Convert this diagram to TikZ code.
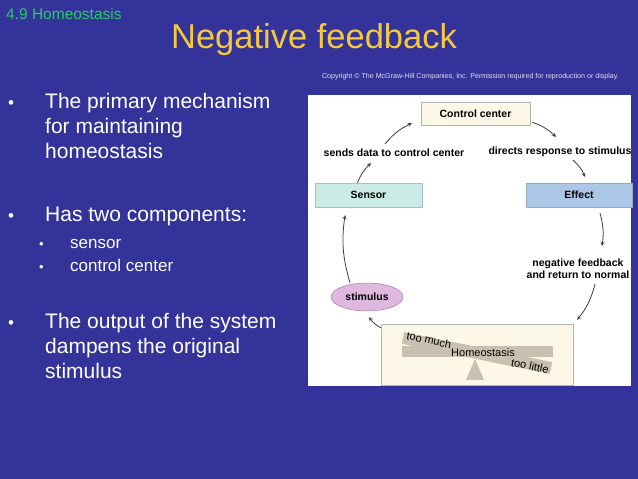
\documentclass[tikz,border=0pt]{standalone}
\usepackage{fontspec}
\setmainfont{Liberation Sans}
\usetikzlibrary{positioning,shapes.geometric}
\definecolor{slideblue}{RGB}{51,51,153}
\definecolor{titleyellow}{RGB}{246,200,62}
\definecolor{topicgreen}{RGB}{38,204,102}
\definecolor{creamfill}{RGB}{252,247,230}
\definecolor{sensorfill}{RGB}{202,234,229}
\definecolor{effectfill}{RGB}{172,198,232}
\definecolor{stimfill}{RGB}{222,184,222}
\definecolor{stimborder}{RGB}{150,110,150}
\definecolor{beamgray}{RGB}{202,192,178}
\definecolor{arrowgray}{RGB}{60,60,60}
\begin{document}
\begin{tikzpicture}[x=1pt, y=1pt, >=stealth,
    every node/.style={font=\fontsize{10.5}{12}\selectfont\bfseries, inner sep=2pt},
    box/.style={draw=gray!60, minimum height=24pt},
    slidetext/.style={text=white, align=left, anchor=base west, font=\fontsize{21}{25}\selectfont},
    subtext/.style={text=white, anchor=base west, font=\fontsize{17}{20}\selectfont},
    dot/.style={text=white, anchor=base west, font=\fontsize{17}{20}\selectfont},
    link/.style={->, draw=arrowgray, line width=0.8pt, bend left=12}]
  \fill[slideblue] (0,0) rectangle (638,479);
  \fill[white] (308,93) rectangle (631,384);
  \node[text=topicgreen, font=\fontsize{15.5}{18}\selectfont, anchor=west] (topic) at (4,465) {4.9 Homeostasis};
  \node[text=titleyellow, font=\fontsize{34.5}{40}\selectfont] (title) at (314,439) {Negative feedback};
  \node[text=white!85!slideblue, font=\fontsize{7.1}{8}\selectfont] (copy) at (470.5,402) {Copyright © The McGraw-Hill Companies, Inc. Permission required for reproduction or display.};

  \node[dot] (d1) at (6,370) {•};
  \node[slidetext] (p1) at (43,320) {The primary mechanism\\for maintaining\\homeostasis};
  \node[dot] (d2) at (6,257) {•};
  \node[slidetext] (p2) at (43,257) {Has two components:};
  \node[dot, font=\fontsize{13}{14}\selectfont] (d21) at (37,230) {•};
  \node[subtext] (p21) at (68,230) {sensor};
  \node[dot, font=\fontsize{13}{14}\selectfont] (d22) at (37,207) {•};
  \node[subtext] (p22) at (68,207) {control center};
  \node[dot] (d3) at (6,150) {•};
  \node[slidetext] (p3) at (43,100) {The output of the system\\dampens the original\\stimulus};

  \node[box, fill=creamfill, minimum width=109pt, minimum height=23pt] (ctrl) at (475.5,365.5) {Control center};
  \node[box, fill=sensorfill, draw=sensorfill!60!gray, minimum width=107pt] (sensor) at (368.5,284) {Sensor};
  \node[box, fill=effectfill, draw=effectfill!60!gray, minimum width=106pt] (effect) at (579,284) {Effect};
  \node[ellipse, draw=stimborder, fill=stimfill, minimum width=72pt, minimum height=28pt, inner sep=0pt] (stim) at (367,182) {stimulus};
  \node[box, fill=creamfill, minimum width=192pt, minimum height=61pt] (homeo) at (477,124.5) {};
  \node (sends) at (394,326) {sends data to control center};
  \node (directs) at (560,327) {directs response to stimulus};
  \node[align=center] (negl) at (578,210) {negative feedback\\and return to normal};

  \fill[beamgray] (402,122) rectangle (553,133);
  \fill[beamgray, rotate around={-11.46:(477,126)}] (401.5,120) rectangle (552.5,132);
  \fill[beamgray] (466,99) -- (484,99) -- (475,120) -- cycle;
  \node[font=\fontsize{11}{13}\selectfont, rotate=-11.5] (much) at (429,139) {too much};
  \node[font=\fontsize{11}{13}\selectfont, rotate=-11.5] (little) at (530,113) {too little};
  \node[font=\fontsize{11}{13}\selectfont] (homeolbl) at (483,126) {Homeostasis};

  \draw[link] ([xshift=-11pt]sensor.north) to ([xshift=-23pt,yshift=-4pt]sends.south);
  \draw[link] ([xshift=-9pt,yshift=3pt]sends.north) to ([xshift=-9pt,yshift=2pt]ctrl.south west);
  \draw[link] ([xshift=2pt,yshift=3pt]ctrl.south east) to ([xshift=-4pt,yshift=8pt]directs.north);
  \draw[link] ([xshift=13pt,yshift=-1pt]directs.south) to ([xshift=6pt,yshift=6pt]effect.north);
  \draw[link] ([xshift=21pt,yshift=-6pt]effect.south) to ([xshift=24pt,yshift=11pt]negl.north);
  \draw[link] ([xshift=17pt,yshift=-3pt]negl.south) to ([xshift=4pt,yshift=4pt]homeo.north east);
  \draw[link] ([yshift=-4pt]homeo.north west) to ([xshift=2pt,yshift=-6pt]stim.south);
  \draw[link] ([xshift=-17pt]stim.north) to ([xshift=-23.5pt,yshift=-8pt]sensor.south);
\end{tikzpicture}
\end{document}
